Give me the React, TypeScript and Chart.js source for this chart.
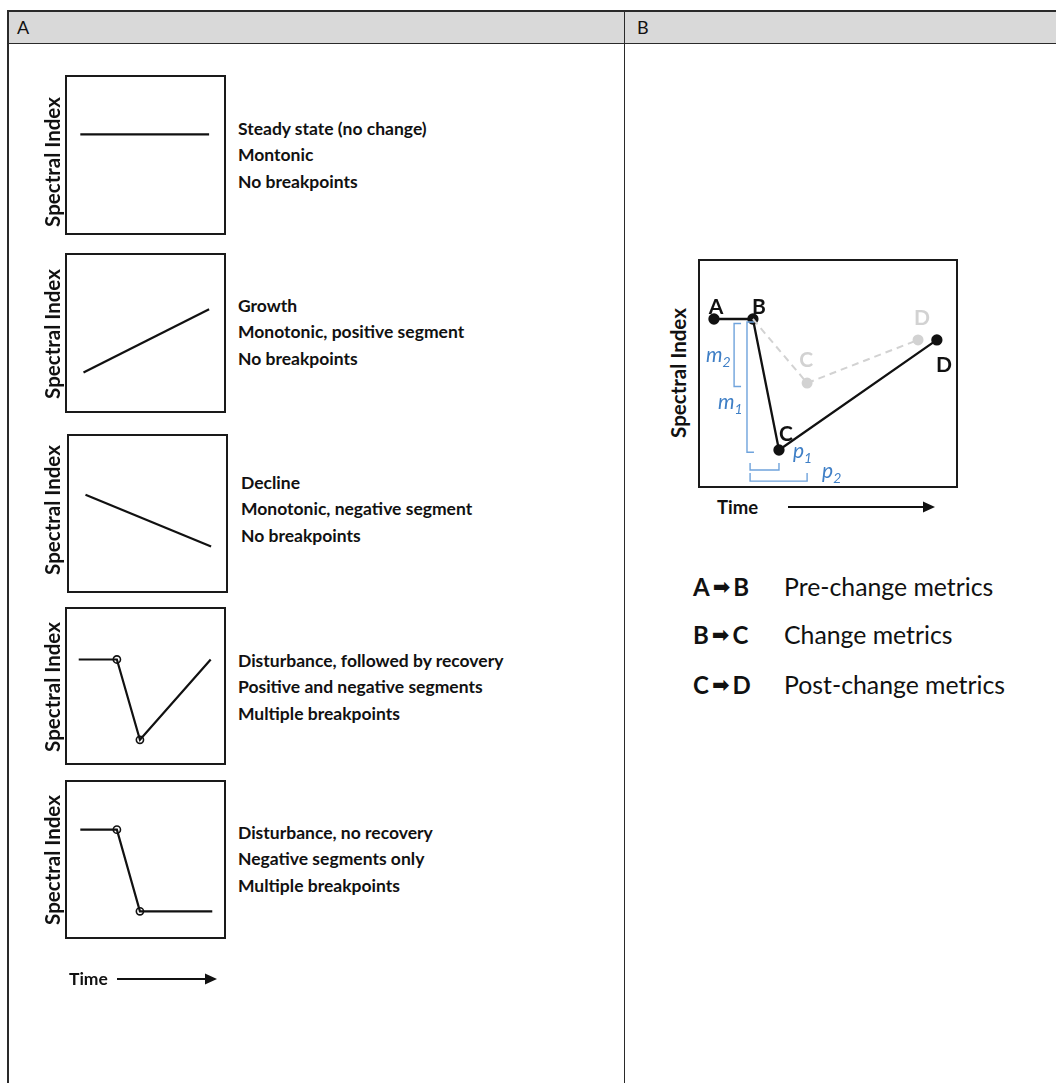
import React, { useEffect, useRef } from 'react';
import { Chart, registerables } from 'chart.js';

Chart.register(...registerables);

const FONT = 'Lato, "Open Sans", "DejaVu Sans", sans-serif';

// ---- Panel A: trajectories (time 0–100, spectral index 0–100 inside each frame)
const steadyTime = [9, 90];
const steadyIndex = [63, 63];
const growthTime = [11, 90];
const growthIndex = [25, 65];
const declineTime = [11, 90];
const declineIndex = [62, 29];
const recoveryTime = [8, 32, 46.5, 91];
const recoveryIndex = [67, 67, 15.5, 67];
const noRecoveryTime = [9, 32, 46.5, 92];
const noRecoveryIndex = [69, 69, 17, 17];
const recoveryBreaks = [false, true, true, false];
const noRecoveryBreaks = [false, true, true, false];

const descSteady = ['Steady state (no change)', 'Montonic', 'No breakpoints'];
const descGrowth = ['Growth', 'Monotonic, positive segment', 'No breakpoints'];
const descDecline = ['Decline', 'Monotonic, negative segment', 'No breakpoints'];
const descRecovery = ['Disturbance, followed by recovery', 'Positive and negative segments', 'Multiple breakpoints'];
const descNoRecovery = ['Disturbance, no recovery', 'Negative segments only', 'Multiple breakpoints'];

// ---- Panel B: segment metrics
const segmentNames = ['A', 'B', 'C', 'D'];
const segmentTime = [5.8, 20.9, 31.0, 92.2];
const segmentIndex = [74, 74, 16.3, 64.8];
const altNames = ['C', 'D'];
const altTime = [41.9, 84.9];
const altIndex = [45.8, 64.8];

const legendFrom = ['A', 'B', 'C'];
const legendTo = ['B', 'C', 'D'];
const legendText = ['Pre-change metrics', 'Change metrics', 'Post-change metrics'];

const AXIS_LABEL = 'Spectral Index';
const TIME_LABEL = 'Time';

const PAD = 3;
const BLUE_LINE = '#6fa3dc';
const BLUE_TEXT = '#3f7fc6';
const GRAY = '#d2d2d2';

const framePlugin = {
  id: 'frame',
  afterDraw(chart: any) {
    const { ctx, chartArea: a } = chart;
    ctx.save();
    ctx.strokeStyle = '#1a1a1a';
    ctx.lineWidth = 2;
    ctx.strokeRect(a.left, a.top, a.right - a.left, a.bottom - a.top);
    ctx.restore();
  },
};

const baseOptions = (): any => ({
  responsive: false,
  animation: false,
  events: [],
  layout: { padding: PAD, autoPadding: false },
  plugins: { legend: { display: false }, tooltip: { enabled: false } },
  scales: {
    x: { type: 'linear', display: false, min: 0, max: 100 },
    y: { type: 'linear', display: false, min: 0, max: 100 },
  },
});

const toPoints = (xs: number[], ys: number[]) => xs.map((x, i) => ({ x, y: ys[i] }));

function trajectoryConfig(xs: number[], ys: number[], breaks?: boolean[]): any {
  return {
    type: 'line',
    data: {
      datasets: [
        {
          data: toPoints(xs, ys),
          borderColor: '#111',
          borderWidth: 2.2,
          tension: 0,
          pointRadius: breaks ? breaks.map((b) => (b ? 3.6 : 0)) : 0,
          pointBackgroundColor: 'rgba(255,255,255,0)',
          pointBorderColor: '#111',
          pointBorderWidth: 1.6,
        },
      ],
    },
    options: baseOptions(),
    plugins: [framePlugin],
  };
}

function bracketV(x: number, top: number, bottom: number, tick: number) {
  return [
    { x: x + tick, y: top },
    { x, y: top },
    { x, y: bottom },
    { x: x + tick, y: bottom },
  ];
}
function bracketH(y: number, left: number, right: number, tick: number) {
  return [
    { x: left, y: y + tick },
    { x: left, y },
    { x: right, y },
    { x: right, y: y + tick },
  ];
}

function metricsConfig(): any {
  const bx = segmentTime[1];
  const by = segmentIndex[1];
  const blueSet = (data: any[]) => ({
    data,
    borderColor: BLUE_LINE,
    borderWidth: 1.4,
    pointRadius: 0,
    tension: 0,
  });
  const labelPlugin = {
    id: 'labels',
    afterDatasetsDraw(chart: any) {
      const { ctx } = chart;
      const xs = chart.scales.x;
      const ys = chart.scales.y;
      const px = (v: number) => xs.getPixelForValue(v);
      const py = (v: number) => ys.getPixelForValue(v);
      ctx.save();
      ctx.textAlign = 'center';
      ctx.textBaseline = 'alphabetic';
      ctx.font = `bold 21px ${FONT}`;
      // gray alternative labels (offsets give the baseline position)
      ctx.fillStyle = GRAY;
      const altOff = [
        [-1, -16],
        [4, -15],
      ];
      altNames.forEach((n, i) => ctx.fillText(n, px(altTime[i]) + altOff[i][0], py(altIndex[i]) + altOff[i][1]));
      // black labels
      ctx.fillStyle = '#111';
      const off = [
        [2, -5],
        [6, -5.5],
        [7, -9],
        [7, 32],
      ];
      segmentNames.forEach((n, i) => ctx.fillText(n, px(segmentTime[i]) + off[i][0], py(segmentIndex[i]) + off[i][1]));
      // blue metric labels with subscripts
      ctx.textAlign = 'left';
      const sub = (main: string, s: string, left: number, base: number) => {
        ctx.fillStyle = BLUE_TEXT;
        ctx.font = `italic 21px ${FONT}`;
        const w = ctx.measureText(main).width;
        ctx.fillText(main, left, base);
        ctx.font = `italic 14px ${FONT}`;
        ctx.fillText(s, left + w, base + 5);
      };
      sub('m', '2', px(bx) - 47, py((by + altIndex[0]) / 2) + 11);
      sub('m', '1', px(bx) - 35, py((by + segmentIndex[2]) / 2) + 24);
      sub('p', '1', px(segmentTime[2]) + 14, py(segmentIndex[2]) + 8);
      sub('p', '2', px(altTime[0]) + 15, py(2) - 4.5);
      ctx.restore();
    },
  };
  return {
    type: 'line',
    data: {
      datasets: [
        {
          data: toPoints([bx, ...altTime], [by, ...altIndex]),
          borderColor: GRAY,
          borderWidth: 2,
          borderDash: [7, 5],
          tension: 0,
          pointRadius: [0, 4.5, 4.5],
          pointBackgroundColor: GRAY,
          pointBorderColor: GRAY,
        },
        blueSet(bracketV(bx - 7.3, by - 2, altIndex[0] - 1.5, 2.7)),
        blueSet(bracketV(bx - 2.3, by - 1.3, segmentIndex[2] - 1, 2.7)),
        blueSet(bracketH(7.5, bx - 1.1, segmentTime[2], 3.1)),
        blueSet(bracketH(2.6, bx - 1.1, altTime[0], 3.6)),
        {
          data: toPoints(segmentTime, segmentIndex),
          borderColor: '#111',
          borderWidth: 2.3,
          tension: 0,
          pointRadius: 4.5,
          pointBackgroundColor: '#111',
          pointBorderColor: '#111',
        },
      ],
    },
    options: baseOptions(),
    plugins: [framePlugin, labelPlugin],
  };
}

function ChartFrame({ left, top, width, height, build }: { left: number; top: number; width: number; height: number; build: () => any }) {
  const ref = useRef<HTMLCanvasElement>(null);
  useEffect(() => {
    const chart = new Chart(ref.current as HTMLCanvasElement, build());
    return () => chart.destroy();
  }, []);
  const w = width + 2 * PAD;
  const h = height + 2 * PAD;
  return (
    <canvas
      ref={ref}
      width={w}
      height={h}
      style={{ position: 'absolute', left: left - PAD, top: top - PAD, width: w, height: h }}
    />
  );
}

function RotLabel({ cx, cy, size }: { cx: number; cy: number; size: number }) {
  return (
    <div
      style={{
        position: 'absolute',
        left: cx - 100,
        top: cy - 14,
        width: 200,
        height: 28,
        lineHeight: '28px',
        textAlign: 'center',
        transform: 'rotate(-90deg)',
        fontFamily: FONT,
        fontWeight: 700,
        fontSize: size,
        color: '#111',
        whiteSpace: 'nowrap',
      }}
    >
      {AXIS_LABEL}
    </div>
  );
}

function TimeArrow({ x, y, arrowX1, arrowX2, size }: { x: number; y: number; arrowX1: number; arrowX2: number; size: number }) {
  return (
    <>
      <div
        style={{
          position: 'absolute',
          left: x,
          top: y - 13,
          height: 26,
          lineHeight: '26px',
          fontFamily: FONT,
          fontWeight: 700,
          fontSize: size,
          color: '#111',
        }}
      >
        {TIME_LABEL}
      </div>
      <svg style={{ position: 'absolute', left: arrowX1, top: y - 7, overflow: 'visible' }} width={arrowX2 - arrowX1} height={14}>
        <line x1={0} y1={7} x2={arrowX2 - arrowX1 - 10} y2={7} stroke="#111" strokeWidth={2} />
        <polygon points={`${arrowX2 - arrowX1 - 12},1.5 ${arrowX2 - arrowX1},7 ${arrowX2 - arrowX1 - 12},12.5`} fill="#111" />
      </svg>
    </>
  );
}

function Desc({ x, y, lines }: { x: number; y: number; lines: string[] }) {
  return (
    <div
      style={{
        position: 'absolute',
        left: x,
        top: y - 13.3,
        fontFamily: FONT,
        fontWeight: 700,
        fontSize: 17.5,
        lineHeight: '26.7px',
        color: '#111',
        whiteSpace: 'nowrap',
      }}
    >
      {lines.map((l, i) => (
        <div key={i}>{l}</div>
      ))}
    </div>
  );
}

const panelA = [
  { box: [66, 76, 159, 158], label: 162, text: [238, 129], desc: descSteady, build: () => trajectoryConfig(steadyTime, steadyIndex) },
  { box: [66, 254, 159, 158], label: 334, text: [238, 306], desc: descGrowth, build: () => trajectoryConfig(growthTime, growthIndex) },
  { box: [68, 435, 159, 157], label: 510, text: [241, 483], desc: descDecline, build: () => trajectoryConfig(declineTime, declineIndex) },
  { box: [66, 608, 159, 156], label: 687, text: [238, 661], desc: descRecovery, build: () => trajectoryConfig(recoveryTime, recoveryIndex, recoveryBreaks) },
  { box: [66, 781, 159, 157], label: 860, text: [238, 833], desc: descNoRecovery, build: () => trajectoryConfig(noRecoveryTime, noRecoveryIndex, noRecoveryBreaks) },
];

const legendRowY = [587, 635, 685];

export default function App() {
  useEffect(() => {
    document.body.style.margin = '0';
  }, []);
  const line = '#2a2a2a';
  return (
    <div style={{ position: 'absolute', left: 0, top: 0, width: 1056, height: 1083, background: '#fff', overflow: 'hidden' }}>
      {/* table */}
      <div style={{ position: 'absolute', left: 7, top: 10, width: 1056 - 7, height: 33, background: '#d9d9d9' }} />
      <div style={{ position: 'absolute', left: 7, top: 10, width: 1056 - 7, height: 1.5, background: line }} />
      <div style={{ position: 'absolute', left: 7, top: 42.5, width: 1056 - 7, height: 1.5, background: line }} />
      <div style={{ position: 'absolute', left: 7, top: 10, width: 1.5, height: 1083, background: line }} />
      <div style={{ position: 'absolute', left: 623.5, top: 10, width: 1.5, height: 1083, background: line }} />
      <div style={{ position: 'absolute', left: 17, top: 14, fontFamily: FONT, fontSize: 18, lineHeight: '26px', color: '#111' }}>A</div>
      <div style={{ position: 'absolute', left: 637, top: 14, fontFamily: FONT, fontSize: 18, lineHeight: '26px', color: '#111' }}>B</div>

      {/* panel A */}
      {panelA.map((p, i) => (
        <React.Fragment key={i}>
          <ChartFrame left={p.box[0]} top={p.box[1]} width={p.box[2]} height={p.box[3]} build={p.build} />
          <RotLabel cx={52} cy={p.label} size={20.5} />
          <Desc x={p.text[0]} y={p.text[1]} lines={p.desc} />
        </React.Fragment>
      ))}
      <TimeArrow x={69} y={979} arrowX1={117} arrowX2={217} size={17.5} />

      {/* panel B */}
      <ChartFrame left={699} top={260} width={258} height={227} build={metricsConfig} />
      <RotLabel cx={678} cy={373} size={20.5} />
      <TimeArrow x={717} y={507} arrowX1={788} arrowX2={935} size={18.5} />
      {legendText.map((t, i) => (
        <React.Fragment key={i}>
          <div
            style={{
              position: 'absolute',
              left: 693,
              top: legendRowY[i] - 16,
              height: 32,
              lineHeight: '32px',
              fontFamily: FONT,
              fontWeight: 700,
              fontSize: 24,
              color: '#111',
              whiteSpace: 'nowrap',
            }}
          >
            {legendFrom[i]}
            <span style={{ fontFamily: '"DejaVu Sans", sans-serif', fontSize: 21, margin: '0 3px', position: 'relative', top: -2 }}>➡</span>
            {legendTo[i]}
          </div>
          <div
            style={{
              position: 'absolute',
              left: 784,
              top: legendRowY[i] - 16,
              height: 32,
              lineHeight: '32px',
              fontFamily: FONT,
              fontSize: 24.8,
              color: '#111',
              whiteSpace: 'nowrap',
            }}
          >
            {t}
          </div>
        </React.Fragment>
      ))}
    </div>
  );
}
